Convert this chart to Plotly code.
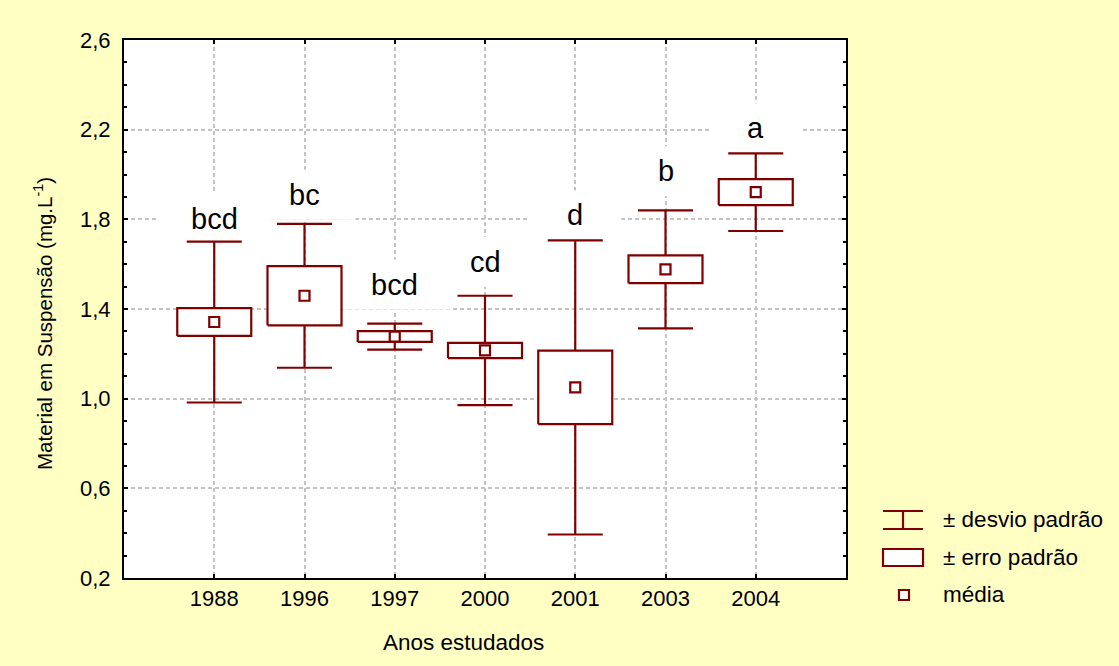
import plotly.graph_objects as go

# ---------------- data ----------------
years = ["1988", "1996", "1997", "2000", "2001", "2003", "2004"]
means = [1.342, 1.459, 1.277, 1.215, 1.050, 1.577, 1.921]
std_err = [0.062, 0.132, 0.024, 0.034, 0.164, 0.062, 0.058]
std_dev = [0.359, 0.321, 0.058, 0.244, 0.656, 0.263, 0.173]
letters = ["bcd", "bc", "bcd", "cd", "d", "b", "a"]
y_ticks = [0.2, 0.6, 1.0, 1.4, 1.8, 2.2, 2.6]

# ---------------- style ----------------
RED = "#800000"
BG = "#FFFFC4"
GRID = "#c4c4c4"
FONT = "Liberation Sans, Arial, Helvetica, sans-serif"
W, H = 1119, 666
L, R, T, B = 124, 846, 40, 578  # plot area in pixels
X_RANGE = [-1, len(years)]
Y_RANGE = [0.2, 2.6]
box_half = 0.41
cap_half = 0.305
letter_gap_px = [23, 29, 39, 34, 25, 39, 25]

xpos = list(range(len(years)))
ux = (X_RANGE[1] - X_RANGE[0]) / (R - L)   # data units per pixel
uy = (Y_RANGE[1] - Y_RANGE[0]) / (B - T)

fig = go.Figure()

# white patches behind the letters (hide grid lines, as in the original)
for i, (m, sd, lt) in enumerate(zip(means, std_dev, letters)):
    g = letter_gap_px[i]
    hw = (82 + 10 * len(lt)) / 2 * ux
    yc = m + sd + g * uy
    hh = 25 * uy
    fig.add_trace(go.Scatter(
        x=[i - hw, i + hw, i + hw, i - hw, i - hw],
        y=[yc - hh, yc - hh, yc + hh, yc + hh, yc - hh],
        mode="lines", fill="toself", fillcolor="white", line=dict(width=0, color="white"),
        showlegend=False, hoverinfo="skip"))

# whiskers (± desvio padrão)
wx, wy = [], []
for i, (m, sd) in enumerate(zip(means, std_dev)):
    wx += [i, i, None, i - cap_half, i + cap_half, None, i - cap_half, i + cap_half, None]
    wy += [m - sd, m + sd, None, m + sd, m + sd, None, m - sd, m - sd, None]
fig.add_trace(go.Scatter(x=wx, y=wy, mode="lines", line=dict(color=RED, width=2.2),
                         showlegend=False, hoverinfo="skip"))

# boxes (± erro padrão)
for i, (m, se) in enumerate(zip(means, std_err)):
    fig.add_trace(go.Scatter(
        x=[i - box_half, i + box_half, i + box_half, i - box_half, i - box_half],
        y=[m - se, m - se, m + se, m + se, m - se],
        mode="lines", fill="toself", fillcolor="white",
        line=dict(color=RED, width=2.2), showlegend=False, hoverinfo="skip"))

# means
fig.add_trace(go.Scatter(x=xpos, y=means, mode="markers",
                         marker=dict(symbol="square", size=10, color="white",
                                     line=dict(color=RED, width=2.2)),
                         showlegend=False))

# letters
for i, (m, sd, lt) in enumerate(zip(means, std_dev, letters)):
    fig.add_annotation(x=i, y=m + sd, text=lt, showarrow=False, yanchor="middle",
                       yshift=letter_gap_px[i], font=dict(size=29, color="black", family=FONT))

def px(xp):
    return (xp - L) / (R - L)

def py(yp):
    return (B - yp) / (B - T)

# custom legend
shapes = [
    dict(type="line", xref="paper", yref="paper", x0=px(883), x1=px(923), y0=py(511), y1=py(511),
         line=dict(color=RED, width=2.2)),
    dict(type="line", xref="paper", yref="paper", x0=px(883), x1=px(923), y0=py(529), y1=py(529),
         line=dict(color=RED, width=2.2)),
    dict(type="line", xref="paper", yref="paper", x0=px(903), x1=px(903), y0=py(511), y1=py(529),
         line=dict(color=RED, width=2.2)),
    dict(type="rect", xref="paper", yref="paper", x0=px(883), x1=px(923), y0=py(549), y1=py(566),
         line=dict(color=RED, width=2.2), fillcolor="white"),
    dict(type="rect", xref="paper", yref="paper", x0=px(899), x1=px(909), y0=py(590), y1=py(600),
         line=dict(color=RED, width=2.2), fillcolor="white"),
]
legend_texts = [("± desvio padrão", 519), ("± erro padrão", 557), ("média", 594)]
for txt, yy in legend_texts:
    fig.add_annotation(xref="paper", yref="paper", x=px(941), y=py(yy), text=txt,
                       showarrow=False, xanchor="left", yanchor="middle",
                       font=dict(size=22.5, color="black", family=FONT))

# axis titles
fig.add_annotation(xref="paper", yref="paper", x=px(463), y=py(643), text="Anos estudados",
                   showarrow=False, xanchor="center", yanchor="middle",
                   font=dict(size=22.5, color="black", family=FONT))
fig.add_annotation(xref="paper", yref="paper", x=px(43), y=py(324),
                   text="Material em Suspensão (mg.L<sup>-1</sup>)", textangle=-90,
                   showarrow=False, xanchor="center", yanchor="middle",
                   font=dict(size=20.5, color="black", family=FONT))

fig.update_layout(
    width=W, height=H,
    margin=dict(l=L, r=W - R, t=T, b=H - B),
    paper_bgcolor=BG, plot_bgcolor="white",
    separators=", ",
    shapes=shapes,
    font=dict(family=FONT, color="black", size=22),
    showlegend=False,
)
fig.update_xaxes(
    range=X_RANGE, tickvals=xpos, ticktext=years,
    showline=True, linecolor="black", linewidth=2, mirror="ticks",
    ticks="inside", ticklen=4, tickwidth=2, tickcolor="black",
    showgrid=True, gridcolor=GRID, griddash="4px,3px", gridwidth=1.6,
    zeroline=False, tickfont=dict(size=22), fixedrange=True,
)
fig.update_yaxes(
    range=Y_RANGE, tickvals=y_ticks, tickformat=".1f",
    showline=True, linecolor="black", linewidth=2, mirror="ticks",
    ticks="inside", ticklen=4, tickwidth=2, tickcolor="black",
    minor=dict(dtick=0.1, tick0=0.2, ticks="inside", ticklen=3, tickwidth=1.5,
               tickcolor="black", showgrid=False),
    showgrid=True, gridcolor=GRID, griddash="4px,3px", gridwidth=1.6,
    zeroline=False, tickfont=dict(size=22), ticklabelstandoff=7, fixedrange=True,
)

fig.write_html("out.html", config={"displayModeBar": False},
               post_script="document.body.style.margin='0';")
